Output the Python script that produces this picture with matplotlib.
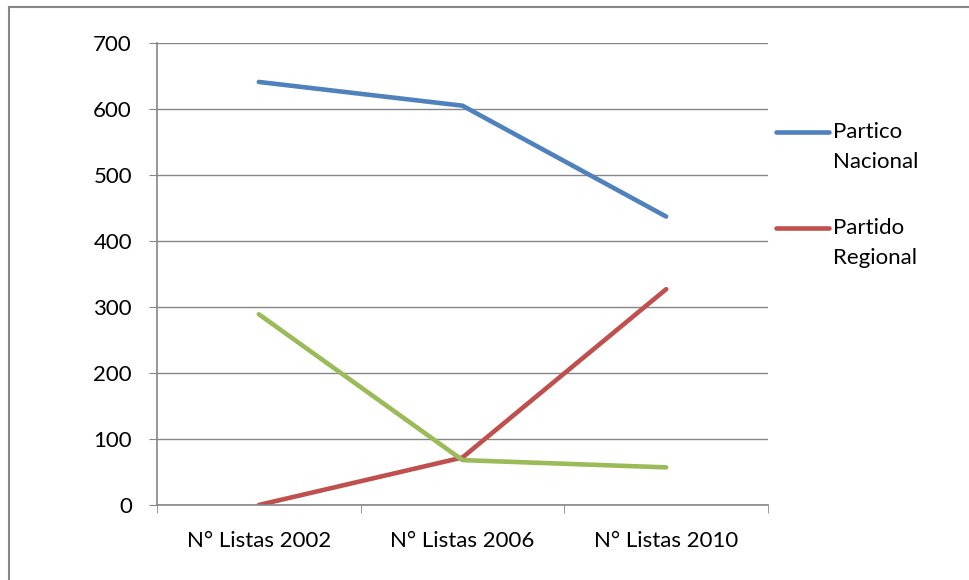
import matplotlib.pyplot as plt
from matplotlib.lines import Line2D

categories = ["N° Listas 2002", "N° Listas 2006", "N° Listas 2010"]
partico_nacional = [641, 605, 437]
partido_regional = [0, 72, 327]
otros = [289, 68, 57]
y_ticks = [0, 100, 200, 300, 400, 500, 600, 700]

BLUE = "#4F81BD"
RED = "#C0504D"
GREEN = "#9BBB59"
GRID = "#868686"
FS = 16

plt.rcParams['font.family'] = ['Lato', 'DejaVu Sans']

W, H = 969, 580
fig = plt.figure(figsize=(W / 100, H / 100), dpi=100)
ax = fig.add_axes([157 / W, 1 - 505 / H, (768 - 157) / W, (505 - 43) / H])

x = range(len(categories))
ax.plot(x, partico_nacional, color=BLUE, lw=3.3, solid_capstyle='round')
ax.plot(x, partido_regional, color=RED, lw=3.3, solid_capstyle='round')
ax.plot(x, otros, color=GREEN, lw=3.3, solid_capstyle='round')

ax.set_xlim(-0.5, len(categories) - 0.5)
ax.set_ylim(0, 700)
ax.set_yticks(y_ticks)
ax.set_yticklabels([str(v) for v in y_ticks], fontsize=FS)
ax.set_xticks(list(x))
ax.set_xticklabels(categories, fontsize=FS)
ax.set_xticks([i - 0.5 for i in range(len(categories) + 1)], minor=True)
ax.tick_params(axis='x', which='major', length=0, pad=19)
ax.tick_params(axis='x', which='minor', length=6, color=GRID, direction='out')
ax.tick_params(axis='y', length=6, color=GRID, pad=12)

ax.grid(axis='y', color=GRID, lw=1)
ax.set_axisbelow(True)
for side in ['top', 'right']:
    ax.spines[side].set_visible(False)
for side in ['left', 'bottom']:
    ax.spines[side].set_color(GRID)
    ax.spines[side].set_linewidth(1.2)

# legend drawn by hand so the key sits on the first text line
legend_items = [("Partico\nNacional", BLUE, 132), ("Partido\nRegional", RED, 228)]
for label, color, ypix in legend_items:
    fig.add_artist(Line2D([776 / W, 829 / W], [1 - ypix / H, 1 - ypix / H],
                          color=color, lw=3.3, solid_capstyle='round'))
    fig.text(833 / W, 1 - (ypix - 10) / H, label, fontsize=FS, va='top',
             ha='left', linespacing=1.65)

# chart frame
fig.add_artist(Line2D([9 / W, 1], [1 - 7 / H, 1 - 7 / H], color=GRID, lw=1.5))
fig.add_artist(Line2D([9 / W, 9 / W], [0, 1 - 7 / H], color=GRID, lw=1.5))

fig.savefig("out.png", dpi=100)
